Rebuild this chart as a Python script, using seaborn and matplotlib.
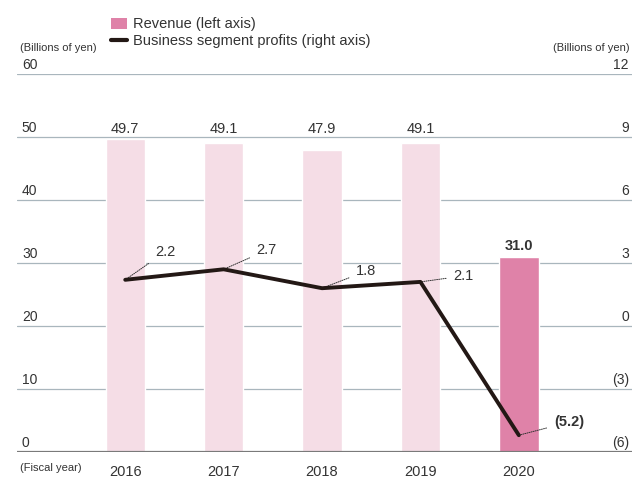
import matplotlib
matplotlib.use("Agg")
import matplotlib.pyplot as plt
import matplotlib.transforms as mtransforms
from matplotlib.patches import Patch
from matplotlib.lines import Line2D
import seaborn as sns

years = ["2016", "2017", "2018", "2019", "2020"]
revenue = [49.7, 49.1, 47.9, 49.1, 31.0]
profits = [2.2, 2.7, 1.8, 2.1, -5.2]
profit_labels = ["2.2", "2.7", "1.8", "2.1", "(5.2)"]
left_ticks = [0, 10, 20, 30, 40, 50, 60]
right_ticks = [-6, -3, 0, 3, 6, 9, 12]
right_tick_labels = ["(6)", "(3)", "0", "3", "6", "9", "12"]

sns.set_style("white")
plt.rcParams["font.family"] = ["Liberation Sans", "DejaVu Sans"]

pale = "#f5dde6"
strong = "#df82a8"
txt = "#333333"

fig = plt.figure(figsize=(6.37, 4.78), dpi=100)
ax = fig.add_axes([17 / 637, 26 / 478, 615 / 637, 378 / 478])
ax2 = ax.twinx()

sns.barplot(x=years, y=revenue, hue=years, palette=[pale] * 4 + [strong],
            saturation=1, width=0.4, legend=False, ax=ax, zorder=2)
ax.set_ylim(0, 60)
ax.set_xlim(-1.1, 5.15)
ax2.set_ylim(-6, 12)

# grid lines
for v in left_ticks[1:]:
    ax.axhline(v, color="#a9b6bd", lw=0.9, zorder=1)
ax.axhline(0, color="#7a7a7a", lw=1.6, zorder=3)

xs = list(range(len(years)))
sns.lineplot(x=xs, y=profits, ax=ax2, color="#231815", lw=2.8, zorder=4)

for s in ["top", "right", "left", "bottom"]:
    ax.spines[s].set_visible(False)
    ax2.spines[s].set_visible(False)
ax.set_yticks([])
ax2.set_yticks([])
ax.set_xlabel("")
ax.set_ylabel("")
ax.tick_params(axis="x", length=0, pad=9, labelsize=10.5, labelcolor=txt)

# axis labels above gridlines
tl = mtransforms.blended_transform_factory(ax.transAxes, ax.transData)
for v in left_ticks:
    ax.text(0.008, v + 0.3, str(v), transform=tl, ha="left", va="bottom",
            fontsize=10, color=txt)
tr = mtransforms.blended_transform_factory(ax2.transAxes, ax2.transData)
for v, lab in zip(right_ticks, right_tick_labels):
    ax2.text(0.995, v + 0.09, lab, transform=tr, ha="right", va="bottom",
             fontsize=10, color=txt)

fig.text(20 / 637, 1 - 48 / 478, "(Billions of yen)", fontsize=8, color=txt,
         ha="left", va="center")
fig.text(630 / 637, 1 - 48 / 478, "(Billions of yen)", fontsize=8, color=txt,
         ha="right", va="center")
fig.text(20 / 637, 1 - 468 / 478, "(Fiscal year)", fontsize=8, color=txt,
         ha="left", va="center")

# revenue labels
for i, v in enumerate(revenue):
    if i < 4:
        ax.text(i, 50.2, f"{v:.1f}", ha="center", va="bottom", fontsize=10.5,
                color=txt)
    else:
        ax.text(i, 31.6, f"{v:.1f}", ha="center", va="bottom", fontsize=10.5,
                color=txt, fontweight="bold")

# profit labels with dotted leaders
offsets = [(30, 28), (33, 19), (34, 17), (33, 6), (35, 13)]
for i, (v, lab) in enumerate(zip(profits, profit_labels)):
    dx, dy = offsets[i]
    ax2.annotate(lab, xy=(i, v), xytext=(dx, dy), textcoords="offset pixels",
                 ha="left", va="center", fontsize=10.5, color=txt,
                 fontweight="bold" if i == 4 else "normal",
                 arrowprops=dict(arrowstyle="-", color="#333333", lw=0.7,
                                 linestyle=(0, (1, 1.2)), shrinkA=3, shrinkB=0))

handles = [Patch(facecolor=strong, edgecolor="none"),
           Line2D([0], [0], color="#231815", lw=3)]
fig.legend(handles, ["Revenue (left axis)", "Business segment profits (right axis)"],
           loc="upper left", bbox_to_anchor=(104 / 637, 1 - 10 / 478),
           frameon=False, fontsize=10.5, handlelength=1.1, handleheight=0.8,
           handletextpad=0.4, labelspacing=0.2, borderpad=0, labelcolor=txt)

fig.savefig("out.png", dpi=100)
